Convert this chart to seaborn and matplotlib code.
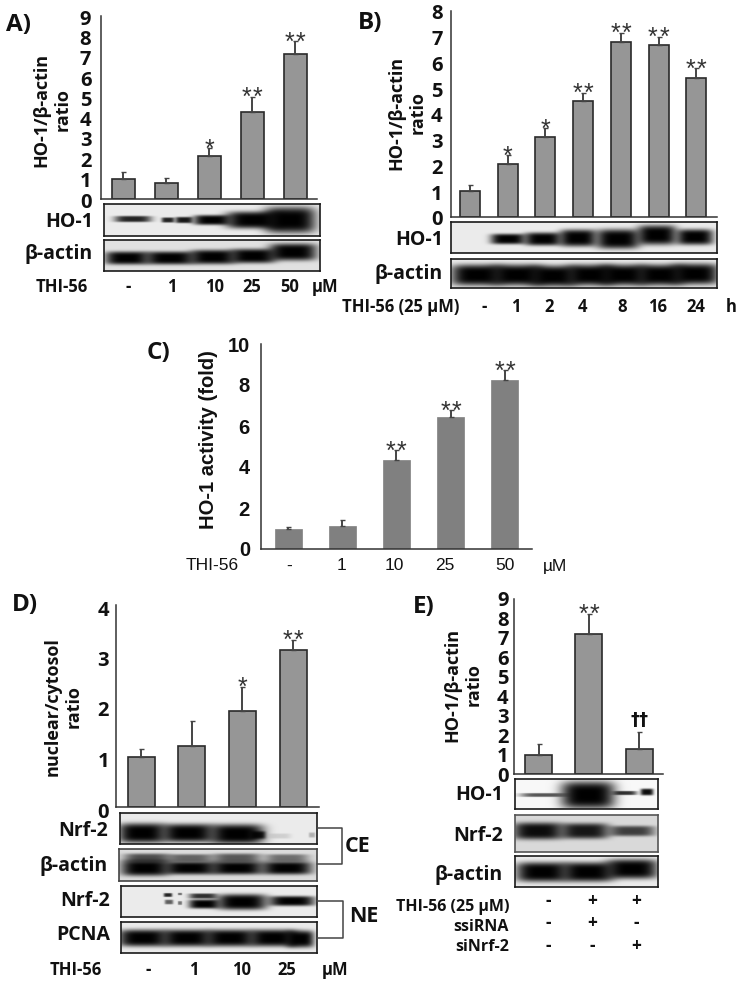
import numpy as np
import pandas as pd
import seaborn as sns
import matplotlib
matplotlib.use("Agg")
import matplotlib.pyplot as plt
from matplotlib.font_manager import FontProperties
from matplotlib.lines import Line2D
from matplotlib.transforms import Affine2D, ScaledTranslation

W, H = 739, 984

# bar values, errs are the upper whisker lengths
a_doses = ["-", "1", "10", "25", "50"]
a_vals = [1.0, 0.78, 2.1, 4.3, 7.13]
a_errs = [0.32, 0.26, 0.4, 0.72, 0.62]
a_stars = ["", "", "*", "**", "**"]

b_hours = ["-", "1", "2", "4", "8", "16", "24"]
b_vals = [1.0, 2.07, 3.09, 4.5, 6.8, 6.68, 5.38]
b_errs = [0.24, 0.33, 0.36, 0.33, 0.36, 0.32, 0.4]
b_stars = ["", "*", "*", "**", "**", "**", "**"]

c_doses = ["-", "1", "10", "25", "50"]
c_vals = [0.97, 1.12, 4.32, 6.42, 8.25]
c_errs = [0.09, 0.29, 0.49, 0.34, 0.48]
c_stars = ["", "", "**", "**", "**"]

d_doses = ["-", "1", "10", "25"]
d_vals = [1.0, 1.2, 1.9, 3.1]
d_errs = [0.14, 0.51, 0.48, 0.21]
d_stars = ["", "", "*", "**"]

e_groups = ["control", "ssiRNA", "siNrf-2"]
e_vals = [1.0, 7.18, 1.29]
e_errs = [0.56, 1.05, 0.86]
e_stars = ["", "**", "\u2020\u2020"]

# western blot bands: centre x, centre y, half width, half height, darkness (picture pixels)
a_ho1 = [(133, 219, 17, 2.4, .85), (168, 220, 6, 2, .85), (184, 220, 8, 2.4, .9), (212, 220, 17, 3.8, 1),
         (253, 220, 25, 6.5, 1), (290, 220, 24, 10, 1)]
a_actin = [(127, 258, 20, 5, 1), (170, 258, 23, 5, 1), (213, 257, 21, 5.5, 1), (253, 256, 21, 5.5, 1),
           (293, 252, 22, 6.5, 1)]
b_ho1 = [(508, 239, 16, 4, 1), (543, 239, 17, 5, 1), (578, 238, 17, 6.5, 1), (618, 239, 20, 7.5, 1),
         (657, 235, 18, 7.5, 1), (695, 237, 17, 6, 1)]
b_actin = [(477, 275, 24, 8, 1), (517, 275, 24, 8, 1), (553, 276, 22, 8, 1), (590, 275, 22, 8, 1),
           (623, 275, 22, 8, 1), (660, 275, 22, 8, 1), (695, 274, 22, 8, 1)]
d_nrf_ce = [(142, 833, 22, 7.5, 1), (188, 833, 24, 7, 1), (237, 834, 25, 7.5, 1), (258, 835, 7, 3, .9),
            (280, 836, 10, 2, .12), (312, 835, 3, 2, .25)]
d_actin_ce = [(147, 858, 21, 3.5, .65), (190, 858, 21, 3, .55), (237, 858, 22, 3.5, .6), (287, 858, 20, 3, .5),
              (145, 868, 22, 6, 1), (190, 868, 24, 5, 1), (237, 868, 24, 5, 1), (287, 868, 23, 5, 1)]
d_nrf_ne = [(168, 895, 4, 1.5, .85), (169, 902, 4, 1.8, .6), (180, 894, 2, 1, .5), (180, 903, 2, 1.5, .5),
            (203, 896, 13, 2, .8), (204, 904, 14, 3.5, 1), (242, 902, 23, 6, 1), (292, 901, 21, 3.8, 1)]
d_pcna = [(143, 938, 23, 6.5, 1), (187, 938, 23, 6.5, 1), (230, 938, 23, 6.5, 1), (273, 938, 22, 6.5, 1),
          (300, 939, 13, 6.5, 1)]
e_ho1 = [(543, 795, 21, 1.5, .65), (588, 795, 25, 10.5, 1), (625, 793, 11, 1.6, .8), (647, 792, 6, 2.6, .95)]
e_nrf = [(538, 831, 23, 6.5, .95), (585, 831, 22, 6, .9), (632, 831, 21, 4, .72)]
e_actin = [(542, 872, 24, 7.5, 1), (588, 872, 24, 7.5, 1), (632, 869, 24, 7.5, 1)]

sns.set_style("white")
plt.rcParams["font.family"] = ["Open Sans", "DejaVu Sans"]

fig = plt.figure(figsize=(W / 100, H / 100), dpi=100)
# picture pixels, origin top left
px = Affine2D().scale(1 / W, -1 / H).translate(0, 1) + fig.transFigure


def add_axes(left, top, right, bottom):
    return fig.add_axes([left / W, 1 - bottom / H, (right - left) / W, (bottom - top) / H])


def label(x, y, s, size=12, ha="center", weight="bold", **kw):
    fig.text(x, y, s, transform=px, fontsize=size, ha=ha, va="center", fontweight=weight, color="#111111", **kw)


def bar_panel(names, vals, errs, stars, box, first, step, width, ymax, ticks, ylabel, ylabel_xy,
              color="#969696", edge="#2a2a2a", lw=1.2, shift=0, tick_len=0, pad=6,
              family="Open Sans", ylab_size=13):
    ax = add_axes(*box)
    df = pd.DataFrame({"group": names, "value": vals})
    sns.barplot(data=df, x="group", y="value", order=names, color=color, saturation=1,
                width=width / step, edgecolor=edge, linewidth=lw, errorbar=None, ax=ax)
    x = np.arange(len(vals))
    ax.errorbar(x, vals, yerr=[np.zeros(len(vals)), errs], fmt="none", ecolor="#444444",
                elinewidth=1.4, capsize=1.8, capthick=1)
    ax.set_xlim((box[0] - first) / step, (box[2] - first) / step)
    ax.set_ylim(0, ymax)
    ax.set_xticks([])
    ax.set_yticks(ticks)
    ax.set_xlabel("")
    sns.despine(ax=ax)
    for side in ["left", "bottom"]:
        ax.spines[side].set_color("#333333")
        ax.spines[side].set_linewidth(1.1)
    ax.tick_params(axis="y", length=tick_len, width=1, color="#333333", pad=pad)
    for t in ax.get_yticklabels():
        t.set_fontproperties(FontProperties(family=family, weight="bold", size=14.5))
        t.set_color("#111111")
        t.set_transform(t.get_transform() + ScaledTranslation(0, -shift / 100, fig.dpi_scale_trans))
    ax.set_ylabel(ylabel, linespacing=1.25, ha="center", va="center", multialignment="center", color="#111111",
                  fontproperties=FontProperties(family=family, weight="bold", size=ylab_size))
    ax.yaxis.set_label_coords(ylabel_xy[0], ylabel_xy[1], transform=px)
    for i, mark in enumerate(stars):
        if not mark:
            continue
        if mark[0] == "*":
            # one text per star so the pair keeps the gap of the picture
            offs = [0] if len(mark) == 1 else [-4, 4]
            for off in offs:
                ax.annotate("*", (i, vals[i] + errs[i]), xytext=(off, -6), textcoords="offset points",
                            ha="center", va="baseline", fontsize=18, family="Liberation Sans", color="#333333",
                            annotation_clip=False)
        else:
            ax.annotate(mark, (i, vals[i] + errs[i]), xytext=(0, 2), textcoords="offset points",
                        ha="center", va="bottom", fontsize=13, fontweight="bold", color="#111111",
                        family="DejaVu Sans", annotation_clip=False)
    return ax


def blot(box, bands, bg=0.92, edge="#1a1a1a", lw=1.2):
    ax = add_axes(*box)
    X, Y = np.meshgrid(np.arange(box[0], box[2]) + 0.5, np.arange(box[1], box[3]) + 0.5)
    light = np.ones_like(X)
    for cx, cy, hw, hh, dark in bands:
        light *= 1 - dark * np.exp(-(np.abs((X - cx) / (1.08 * hw)) ** 4 + np.abs((Y - cy) / (1.3 * hh)) ** 4))
    sns.heatmap(bg * light, ax=ax, cmap="gray", vmin=0, vmax=1, cbar=False,
                xticklabels=False, yticklabels=False)
    for s in ax.spines.values():
        s.set_visible(True)
        s.set_color(edge)
        s.set_linewidth(lw)
    return ax


def bracket(x0, x1, y0, y1):
    fig.add_artist(Line2D([x0, x1, x1, x0], [y0, y0, y1, y1], transform=px, color="#444444", lw=1.1))


# A
bar_panel(a_doses, a_vals, a_errs, a_stars, (101, 16, 317, 199), 123, 43, 23, 9, range(10),
          "HO-1/\u03b2-actin\nratio", (52, 110), shift=1, pad=7)
blot((104, 204, 320, 236), a_ho1)
blot((104, 240, 320, 271), a_actin, bg=0.88)
label(18, 25, "A)", size=17.5)
label(93, 222, "HO-1", size=14, ha="right")
label(93, 254, "\u03b2-actin", size=14, ha="right")
label(62, 287, "THI-56")
for x, s in zip([128, 172, 215, 252, 290, 325], a_doses + ["\u00b5M"]):
    label(x, 287, s)

# B
bar_panel(b_hours, b_vals, b_errs, b_stars, (451, 11, 717, 217), 470, 37.7, 20, 8, range(9),
          "HO-1/\u03b2-actin\nratio", (407, 113), shift=1, pad=6)
blot((451, 222, 717, 253), b_ho1)
blot((451, 259, 717, 288), b_actin)
label(370, 23, "B)", size=17.5)
label(443, 240, "HO-1", size=14, ha="right")
label(443, 274, "\u03b2-actin", size=14, ha="right")
label(401, 307, "THI-56 (25 \u00b5M)")
for x, s in zip([484, 516, 549, 582, 622, 658, 696, 731], b_hours + ["h"]):
    label(x, 307, s)

# C
bar_panel(c_doses, c_vals, c_errs, c_stars, (261, 344, 532, 549), 288, 54.2, 27, 10, range(0, 11, 2),
          "HO-1 activity (fold)", (208, 440), color="#808080", edge="#808080", lw=0.5, tick_len=5, pad=3,
          family="Liberation Sans", ylab_size=14.5)
label(158, 353, "C)", size=17.5)
label(212, 566, "THI-56", size=12.5, family="Liberation Sans", weight="normal")
for x, s in zip([289, 342, 394, 445, 505, 555], c_doses + ["\u00b5M"]):
    label(x, 566, s, size=12.5, family="Liberation Sans", weight="normal")

# D
bar_panel(d_doses, d_vals, d_errs, d_stars, (116, 605, 319, 807), 141, 50.7, 27, 4, range(5),
          "nuclear/cytosol\nratio", (63, 707), shift=3, tick_len=2, pad=3)
blot((120, 813, 317, 844), d_nrf_ce)
blot((119, 849, 317, 881), d_actin_ce, bg=0.86, edge="#444444")
blot((121, 886, 317, 917), d_nrf_ne)
blot((121, 922, 317, 953), d_pcna)
label(25, 605, "D)", size=17.5)
for y, x, s in [(831, 108, "Nrf-2"), (866, 108, "\u03b2-actin"), (901, 110, "Nrf-2"), (935, 110, "PCNA")]:
    label(x, y, s, size=14, ha="right")
bracket(317, 342, 828, 864)
bracket(317, 343, 901, 938)
label(358, 846, "CE", size=15.5)
label(364, 917, "NE", size=15.5)
label(76, 970, "THI-56")
for x, s in zip([148, 194, 242, 287, 335], d_doses + ["\u00b5M"]):
    label(x, 970, s)

# E
bar_panel(e_groups, e_vals, e_errs, e_stars, (514, 599, 663, 774), 538.7, 50.2, 27, 9, range(10),
          "HO-1/\u03b2-actin\nratio", (463, 685), pad=4)
blot((515, 779, 658, 809), e_ho1, bg=0.97)
blot((515, 815, 658, 852), e_nrf, bg=0.85, edge="#555555")
blot((515, 856, 658, 887), e_actin)
label(424, 607, "E)", size=17.5)
label(503, 795, "HO-1", size=14, ha="right")
label(503, 836, "Nrf-2", size=14, ha="right")
label(503, 875, "\u03b2-actin", size=14, ha="right")
label(509, 907, "THI-56 (25 \u00b5M)", size=11.5, ha="right")
label(509, 927, "ssiRNA", size=11.5, ha="right")
label(509, 947, "siNrf-2", size=11.5, ha="right")
for y, row in zip([901, 923, 946], [["-", "+", "+"], ["-", "+", "-"], ["-", "-", "+"]]):
    for x, s in zip([548, 592, 636], row):
        label(x, y, s, size=12.5)

fig.savefig("out.png", dpi=100)
